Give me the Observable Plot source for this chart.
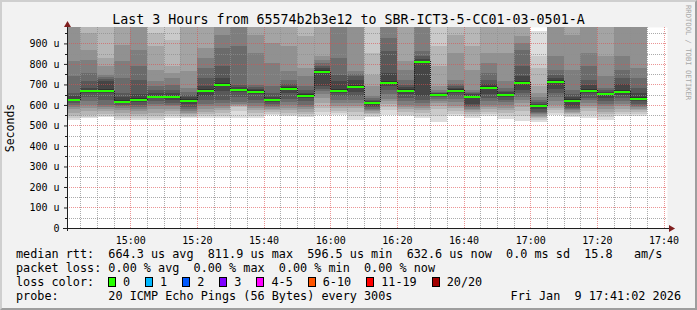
<!DOCTYPE html>
<html><head><meta charset="utf-8">
<script src="https://cdn.jsdelivr.net/npm/d3@7"></script>
<script src="https://cdn.jsdelivr.net/npm/@observablehq/plot@0.6"></script>
<style>
body{margin:0;background:#f2f2f2;}
#wrap{position:relative;width:697px;height:310px;background:#f2f2f2;overflow:hidden;font-family:"DejaVu Sans Mono",monospace;color:#000;}
#wrap svg{position:absolute;left:0;top:0;}
#frame{position:absolute;left:0;top:0;width:697px;height:310px;box-sizing:border-box;border-style:solid;border-width:2px;border-color:#cfcfcf #9e9e9e #9e9e9e #cfcfcf;pointer-events:none;}
.t{position:absolute;white-space:pre;font-size:11.8px;line-height:14px;}
#title{position:absolute;left:0;top:11.5px;width:697px;text-align:center;font-size:13.3px;line-height:15px;white-space:pre;}
#ylab{position:absolute;left:10px;top:128px;font-size:11.5px;line-height:13px;white-space:pre;transform:translate(-50%,-50%) rotate(-90deg);}
#wm{position:absolute;left:688px;top:5px;font-size:7.2px;line-height:8px;color:#a8a8a8;white-space:pre;transform-origin:0 0;transform:translate(4px,0) rotate(90deg);}
#legend{position:absolute;left:108px;top:275px;display:flex;align-items:flex-start;font-size:11.8px;line-height:14px;}
#legend .sq{width:6px;height:8px;border:1px solid #000;margin-top:2px;margin-right:7px;}
#legend .lb{margin-right:15px;white-space:pre;}
</style></head>
<body>
<div id="wrap">
  <div id="title"></div>
  <div id="ylab"></div>
  <div id="wm"></div>
  <div class="t" id="l1" style="left:16px;top:246.5px"></div>
  <div class="t" id="l2" style="left:16px;top:261px"></div>
  <div class="t" id="l3" style="left:16px;top:275px"></div>
  <div id="legend"></div>
  <div class="t" id="l4" style="left:16px;top:289px"></div>
  <div class="t" id="l5" style="right:16px;top:289px"></div>
  <div id="frame"></div>
</div>
<script>
// ---- data ----
const titleText = "Last 3 Hours from 65574b2b3e12 to SBR-ICT3-5-CC01-03-0501-A";
const yAxisLabel = "Seconds";
const watermark = "RRDTOOL / TOBI OETIKER";
const day = "2026-01-09";
const rangeStart = "14:41:02";
const rangeEnd = "17:41:02";
const barEnds = ["14:45","14:50","14:55","15:00","15:05","15:10","15:15","15:20","15:25","15:30","15:35","15:40",
  "15:45","15:50","15:55","16:00","16:05","16:10","16:15","16:20","16:25","16:30","16:35","16:40",
  "16:45","16:50","16:55","17:00","17:05","17:10","17:15","17:20","17:25","17:30","17:35"];
const medians = [626,670,670,618,626,641,641,623,670,701,677,667,628,681,646,763,672,690,613,711,672,813,652,672,643,686,652,711,597,715,623,672,657,667,633];
// 20 sorted ping rtts per step (us); values beyond the top are clipped
const pings = [
[529,537,548,561,578,591,602,610,618,622,630,646,659,740,813,1000,1050,1100,1200,1300],
[534,542,553,569,586,602,618,640,659,666,674,683,716,756,821,870,951,1050,1150,1250],
[542,548,558,569,581,591,602,626,656,662,680,716,727,737,748,789,829,1000,1080,1200],
[529,537,548,561,573,584,594,602,610,614,623,639,659,732,813,894,1000,1060,1150,1250],
[529,535,545,558,569,581,591,602,616,622,633,651,724,789,870,1000,1050,1120,1200,1300],
[529,537,548,561,578,594,607,618,633,637,644,656,672,691,716,772,886,951,1050,1150],
[534,545,556,569,581,594,602,610,626,636,646,659,675,699,732,756,789,919,1050,1150],
[535,542,548,555,561,571,581,591,607,619,628,638,649,662,683,764,1000,1060,1150,1250],
[537,545,556,568,581,594,607,623,646,664,677,691,732,780,829,878,1000,1060,1150,1250],
[534,545,561,574,586,597,610,626,667,696,707,732,789,878,943,1000,1050,1100,1200,1300],
[537,572,589,594,600,605,613,639,662,674,680,686,699,886,1000,1040,1100,1150,1200,1300],
[537,548,561,574,586,597,610,626,651,662,672,678,686,699,854,943,1000,1080,1150,1250],
[553,558,565,573,581,589,597,607,616,625,631,639,656,691,805,902,1000,1060,1150,1250],
[545,553,561,574,587,600,613,629,659,677,686,694,704,724,764,886,1000,1060,1150,1250],
[540,548,556,566,578,591,602,618,633,641,651,659,672,691,740,780,935,1000,1100,1200],
[553,565,586,610,634,651,667,678,691,757,769,779,792,805,818,837,1000,1060,1150,1250],
[553,561,571,584,597,610,626,643,656,668,678,716,748,829,1000,1050,1100,1150,1200,1300],
[529,545,568,584,597,610,626,643,662,686,696,724,743,753,764,1000,1050,1100,1200,1300],
[540,548,556,563,569,576,582,589,597,610,616,621,626,634,646,691,748,854,1000,1100],
[553,574,591,607,618,629,651,675,694,706,716,756,862,927,1000,1050,1100,1150,1200,1300],
[545,553,565,578,591,602,618,634,651,668,677,686,699,724,772,813,1000,1060,1150,1250],
[537,548,561,574,586,597,610,626,643,810,816,824,837,862,1000,1040,1100,1150,1200,1300],
[516,545,578,597,610,621,629,638,646,650,654,657,660,665,672,691,789,886,1000,1100],
[545,558,571,584,597,613,629,643,656,668,677,683,691,704,724,854,943,1000,1100,1200],
[534,545,556,565,573,581,589,597,607,640,646,652,659,665,675,772,886,1000,1100,1200],
[545,556,568,578,591,602,618,634,651,681,691,704,724,756,805,854,1000,1060,1150,1250],
[532,545,561,574,587,600,613,626,639,649,655,662,670,683,716,854,1000,1060,1150,1250],
[521,545,569,591,610,626,639,659,675,706,716,740,789,870,902,935,1000,1060,1150,1250],
[516,529,535,542,548,555,561,568,578,594,600,607,613,623,639,659,691,781,837,959],
[550,561,574,586,602,618,639,659,678,711,720,732,748,772,837,1000,1050,1100,1200,1300],
[540,548,555,561,568,574,581,587,597,619,628,638,651,675,772,943,1000,1060,1150,1250],
[537,553,569,584,597,610,623,634,656,668,678,699,724,789,854,1000,1050,1100,1200,1300],
[529,542,555,568,581,594,607,620,633,654,660,665,672,683,740,837,1000,1060,1150,1250],
[545,555,568,581,594,607,620,633,649,664,675,704,732,772,837,1000,1050,1100,1200,1300],
[548,556,565,573,581,589,597,607,618,628,639,659,683,732,780,1000,1050,1100,1200,1300]
];
const yTicks = [0,100,200,300,400,500,600,700,800,900];
const yMinorTicks = [50,150,250,350,450,550,650,750,850,950];
const xTickLabels = ["15:00","15:20","15:40","16:00","16:20","16:40","17:00","17:20","17:40"];
const statsLine1 = "median rtt:  664.3 us avg  811.9 us max  596.5 us min  632.6 us now  0.0 ms sd  15.8   am/s";
const statsLine2 = "packet loss: 0.00 % avg  0.00 % max  0.00 % min  0.00 % now";
const lossTitle = "loss color:";
const lossLabels = ["0","1","2","3","4-5","6-10","11-19","20/20"];
const lossColors = ["#26ff00","#00b8ff","#0059ff","#7e00ff","#ff00ff","#ff5500","#ff0000","#a10000"];
const probeLine = "probe:       20 ICMP Echo Pings (56 Bytes) every 300s";
const dateLine = "Fri Jan  9 17:41:02 2026";
const smokeGrays = ["#dddddd","#cacaca","#b7b7b7","#a4a4a4","#919191","#7e7e7e","#6b6b6b","#585858","#454545","#323232"];

// ---- build ----
const T = s => new Date(`${day}T${s.length === 5 ? s + ":00" : s}Z`);
const t0 = T(rangeStart), t1 = T(rangeEnd);
const STEP = 5 * 60 * 1000;

const smoke = [];
const med = [];
barEnds.forEach((e, b) => {
  const x2 = T(e), x1 = new Date(+x2 - STEP);
  for (let i = 0; i < 10; i++) {
    smoke.push({x1, x2, y1: pings[b][i], y2: pings[b][19 - i], fill: smokeGrays[i]});
  }
  med.push({x1, x2, y: medians[b], prev: b > 0 ? medians[b - 1] : medians[b]});
});

const fiveMin = d3.utcMinute.every(5).range(t0, t1);
const minorX = fiveMin.filter(d => d.getUTCMinutes() % 20 !== 0);
const majorX = xTickLabels.map(T);

const chart = Plot.plot({
  width: 697, height: 250,
  marginLeft: 67, marginRight: 30, marginTop: 27, marginBottom: 22,
  style: {background: "transparent", fontFamily: "DejaVu Sans Mono", fontSize: "10px", color: "#000", overflow: "visible"},
  x: {type: "utc", domain: [t0, t1]},
  y: {domain: [0, 980]},
  color: {type: "identity"},
  marks: [
    Plot.frame({fill: "#ffffff", stroke: "none"}),
    Plot.rect(smoke, {x1: "x1", x2: "x2", y1: "y1", y2: "y2", fill: "fill", clip: true, shapeRendering: "crispEdges"}),
    Plot.gridX(minorX, {stroke: "#8f8f8f", strokeOpacity: 0.75, strokeDasharray: "1,1", shapeRendering: "crispEdges"}),
    Plot.gridY(yMinorTicks, {stroke: "#8f8f8f", strokeOpacity: 0.75, strokeDasharray: "1,1", shapeRendering: "crispEdges"}),
    Plot.gridX(majorX, {stroke: "#de4f4f", strokeOpacity: 0.6, strokeDasharray: "1,1", shapeRendering: "crispEdges"}),
    Plot.gridY(yTicks.filter(d => d > 0), {stroke: "#de4f4f", strokeOpacity: 0.6, strokeDasharray: "1,1", shapeRendering: "crispEdges"}),
    Plot.ruleX(med.slice(1), {x: "x1", y1: "prev", y2: "y", stroke: "#202020", strokeDasharray: "1,1", clip: true, shapeRendering: "crispEdges"}),
    Plot.ruleY(med, {y: "y", x1: "x1", x2: "x2", stroke: "#26ff00", strokeWidth: 2, clip: true, shapeRendering: "crispEdges"}),
    Plot.axisY(yTicks, {tickSize: 3, tickPadding: 5, tickFormat: d => d === 0 ? "0" : `${d} u`, label: null, fontSize: 10, stroke: "#1f1f1f"}),
    Plot.ruleY(yMinorTicks, {x1: () => t0, x2: () => t0, insetLeft: -2, stroke: "#1f1f1f", shapeRendering: "crispEdges"}),
    Plot.axisX(majorX, {tickSize: 0, tickPadding: 8, tickFormat: d3.utcFormat("%H:%M"), label: null, fontSize: 10}),
    Plot.ruleY([0], {insetLeft: -4, insetRight: -3, stroke: "#1f1f1f", shapeRendering: "crispEdges"}),
    Plot.ruleX([t0], {insetTop: -1, insetBottom: -3, stroke: "#1f1f1f", shapeRendering: "crispEdges"}),
    Plot.dot([0], {x: () => t0, y: () => 980, symbol: "triangle", r: 2.6, dy: -2.5, fill: "#801f1f", stroke: "none", clip: false}),
    Plot.dot([0], {x: () => t1, y: () => 0, symbol: "triangle", r: 2.6, rotate: 90, dx: 3.5, fill: "#801f1f", stroke: "none", clip: false})
  ]
});
document.getElementById("wrap").insertBefore(chart, document.getElementById("title"));

document.getElementById("title").textContent = titleText;
document.getElementById("ylab").textContent = yAxisLabel;
document.getElementById("wm").textContent = watermark;
document.getElementById("l1").textContent = statsLine1;
document.getElementById("l2").textContent = statsLine2;
document.getElementById("l3").textContent = lossTitle;
document.getElementById("l4").textContent = probeLine;
document.getElementById("l5").textContent = dateLine;
const lg = document.getElementById("legend");
lossLabels.forEach((l, i) => {
  const sq = document.createElement("div"); sq.className = "sq"; sq.style.background = lossColors[i];
  const lb = document.createElement("div"); lb.className = "lb"; lb.textContent = l;
  lg.appendChild(sq); lg.appendChild(lb);
});
</script>
</body></html>
